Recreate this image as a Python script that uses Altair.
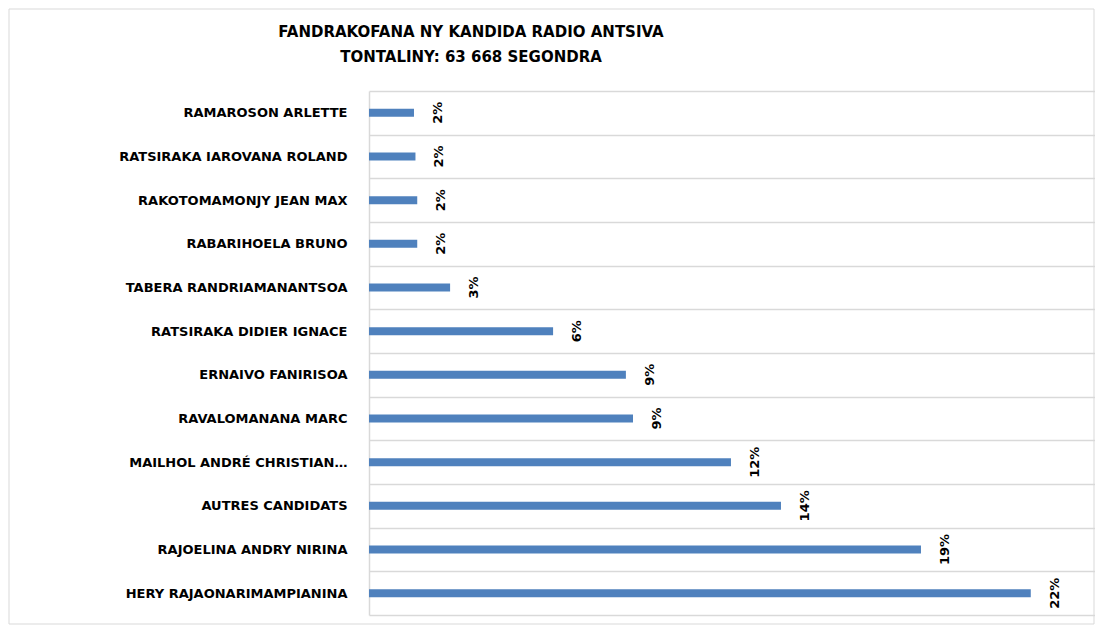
import altair as alt
import pandas as pd

candidates = [
    "RAMAROSON ARLETTE",
    "RATSIRAKA IAROVANA ROLAND",
    "RAKOTOMAMONJY JEAN MAX",
    "RABARIHOELA BRUNO",
    "TABERA RANDRIAMANANTSOA",
    "RATSIRAKA DIDIER IGNACE",
    "ERNAIVO FANIRISOA",
    "RAVALOMANANA MARC",
    "MAILHOL ANDRÉ CHRISTIAN…",
    "AUTRES CANDIDATS",
    "RAJOELINA ANDRY NIRINA",
    "HERY RAJAONARIMAMPIANINA",
]
shares = [0.0152, 0.0157, 0.0163, 0.0163, 0.0274, 0.0622,
          0.0868, 0.0892, 0.1223, 0.1392, 0.1865, 0.2236]
title_lines = ["FANDRAKOFANA NY KANDIDA RADIO ANTSIVA", "TONTALINY: 63 668 SEGONDRA"]

df = pd.DataFrame({"candidate": candidates, "share": shares})

W, H = 726, 524
FONT = "DejaVu Sans"

y_enc = alt.Y(
    "candidate:N",
    sort=candidates,
    title=None,
    scale=alt.Scale(paddingInner=0, paddingOuter=0),
    axis=alt.Axis(
        tickBand="extent",
        grid=True,
        gridColor="#d9d9d9",
        gridWidth=1.5,
        domain=True,
        domainColor="#d9d9d9",
        domainWidth=1.5,
        ticks=False,
        labelPadding=22,
        labelFont=FONT,
        labelFontWeight="bold",
        labelFontSize=13,
        labelColor="#000000",
        labelLimit=360,
    ),
)
x_enc = alt.X("share:Q", scale=alt.Scale(domain=[0, 0.2453]), axis=None)

base = alt.Chart(df).encode(y=y_enc, x=x_enc)

bars = base.mark_bar(size=8, color="#4f81bd")
labels = base.mark_text(
    angle=270, xOffset=24, align="center", baseline="middle",
    font=FONT, fontWeight="bold", fontSize=13, color="#000000",
).encode(text=alt.Text("share:Q", format=".0%"))

frame = alt.Chart(pd.DataFrame({"frame": [0]})).mark_rect(
    fill="white", fillOpacity=0, stroke="#d9d9d9", strokeWidth=1
).encode(
    x=alt.value(-360), x2=alt.value(W - 1),
    y=alt.value(-82), y2=alt.value(H + 9),
)

chart = alt.layer(frame, bars, labels).properties(
    width=W,
    height=H,
    autosize=alt.AutoSizeParams(type="none"),
    padding={"left": 361, "top": 83, "right": 0, "bottom": 10},
    background="white",
    title=alt.Title(
        title_lines,
        anchor="start", align="center", dx=102, frame="group",
        font=FONT, fontSize=15, fontWeight="bold", color="#000000",
        lineHeight=25, offset=-56,
    ),
).configure_view(stroke=None)

chart.save("out.html", embed_options={"renderer": "svg", "actions": False})
